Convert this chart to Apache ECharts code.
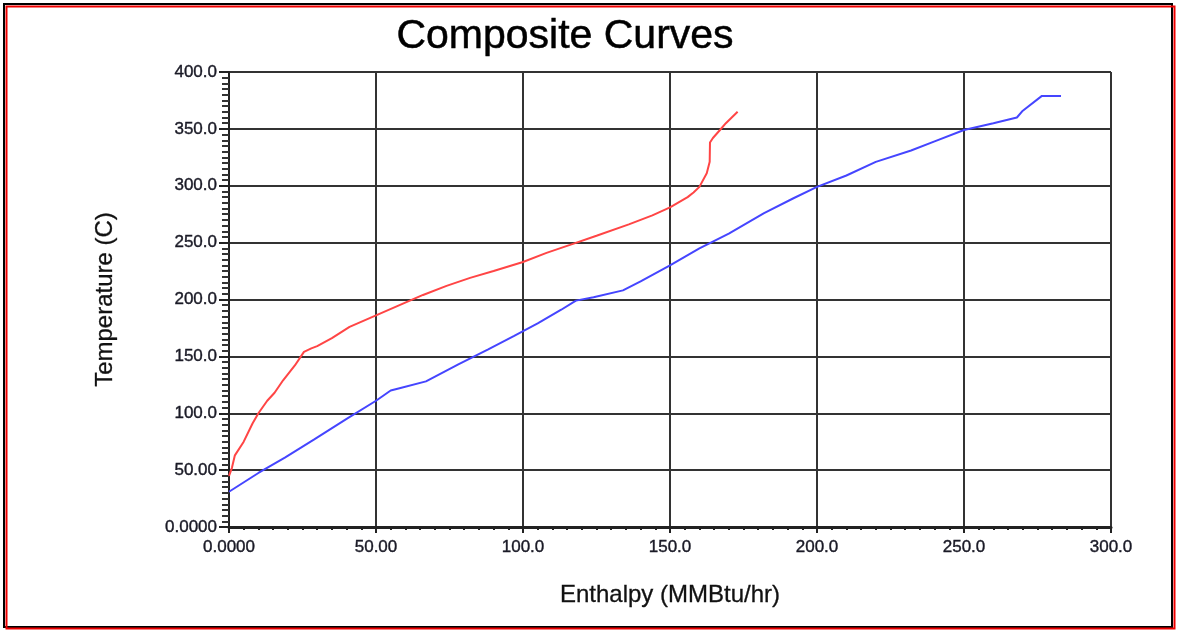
<!DOCTYPE html>
<html>
<head>
<meta charset="utf-8">
<title>Composite Curves</title>
<script src="https://cdn.jsdelivr.net/npm/echarts@6/dist/echarts.min.js"></script>
<style>
  html, body { margin: 0; padding: 0; background: #fff; }
  #chart { width: 1178px; height: 630px; }
</style>
</head>
<body>
<div id="chart"></div>
<script>
// Hot composite curve: [enthalpy (MMBtu/hr), temperature (C)]
const hotComposite = [
  [0, 45], [1, 52], [2, 63], [5, 75], [8, 91], [10, 100], [13, 111], [15.5, 118],
  [18.4, 129], [22.4, 142], [25.5, 154], [28, 157], [30, 159], [35, 166], [41, 176],
  [50, 186], [58, 195], [66, 204], [74, 212], [82, 219], [90, 225], [100, 233],
  [108, 241], [116, 248], [125, 256], [136, 266], [144, 274], [150, 281], [156, 290],
  [158, 294], [160, 299], [162.5, 311], [163.5, 321], [163.6, 338], [164.6, 342],
  [167, 349], [169, 355], [173, 365]
];

// Cold composite curve: [enthalpy (MMBtu/hr), temperature (C)]
const coldComposite = [
  [0, 31], [10, 47.5], [19, 61], [29, 77], [40, 95], [50, 111], [55, 120], [58, 122],
  [67, 128], [78, 143], [88, 156], [97, 168], [105, 179], [113, 191], [118, 199],
  [124, 202], [134, 208], [140, 216], [150, 230], [160, 245], [170, 258], [182, 276],
  [192, 289], [200, 299], [210, 309], [220, 321], [232, 331], [240, 339], [250, 349],
  [260, 355], [268, 360], [270, 366], [276.5, 379], [283, 379]
];

// Tick labels, one per major tick (every 50)
const xTickLabels = ['0.0000', '50.00', '100.0', '150.0', '200.0', '250.0', '300.0'];
const yTickLabels = ['0.0000', '50.00', '100.0', '150.0', '200.0', '250.0', '300.0', '350.0', '400.0'];

const chart = echarts.init(document.getElementById('chart'), null, { renderer: 'canvas' });

const labelFont = {
  fontFamily: 'Liberation Sans, Arial, sans-serif', fontSize: 17, color: '#1a1a26',
  textBorderColor: '#1a1a26', textBorderWidth: 0.4
};
const nameFont = {
  fontFamily: 'Liberation Sans, Arial, sans-serif', fontSize: 24, color: '#111',
  textBorderColor: '#111', textBorderWidth: 0.3
};
const gridLine = { color: '#333', width: 2 };

chart.setOption({
  backgroundColor: '#fff',
  animation: false,
  title: {
    text: 'Composite Curves',
    left: 560,
    textAlign: 'center',
    top: 11,
    textStyle: {
      fontFamily: 'Liberation Sans, Arial, sans-serif', fontSize: 41, fontWeight: 'normal', color: '#000',
      textBorderColor: '#000', textBorderWidth: 0.5
    }
  },
  graphic: [
    { type: 'rect', silent: true, shape: { x: 4, y: 4, width: 1168, height: 623 },
      style: { fill: 'none', stroke: '#000', lineWidth: 2 } },
    { type: 'rect', silent: true, shape: { x: 6.5, y: 6.5, width: 1168, height: 622 },
      style: { fill: 'none', stroke: '#e00', lineWidth: 2 } }
  ],
  grid: { left: 229, right: 67, top: 72, bottom: 103, containLabel: false },
  xAxis: {
    type: 'value',
    min: 0, max: 300, interval: 50,
    name: 'Enthalpy (MMBtu/hr)',
    nameLocation: 'middle',
    nameGap: 56,
    nameTextStyle: nameFont,
    axisLine: { show: true, onZero: false, lineStyle: { color: '#222', width: 3 } },
    axisTick: { show: true, inside: false, length: 6, lineStyle: { color: '#222', width: 2 } },
    minorTick: { show: true, splitNumber: 10, length: 3, lineStyle: { color: '#222', width: 2 } },
    axisLabel: Object.assign({ margin: 12, formatter: v => xTickLabels[Math.round(v / 50)] }, labelFont),
    splitLine: { show: true, lineStyle: gridLine }
  },
  yAxis: {
    type: 'value',
    min: 0, max: 400, interval: 50,
    name: 'Temperature (C)',
    nameLocation: 'middle',
    nameGap: 112,
    nameTextStyle: nameFont,
    axisLine: { show: true, onZero: false, lineStyle: { color: '#222', width: 2 } },
    axisTick: { show: true, inside: false, length: 10, lineStyle: { color: '#222', width: 2 } },
    minorTick: { show: true, splitNumber: 10, length: 7, lineStyle: { color: '#333', width: 2 } },
    axisLabel: Object.assign({ margin: 12, formatter: v => yTickLabels[Math.round(v / 50)] }, labelFont),
    splitLine: { show: true, lineStyle: gridLine }
  },
  series: [
    {
      name: 'Hot Composite',
      type: 'line',
      data: hotComposite,
      showSymbol: false,
      smooth: false,
      lineStyle: { color: '#ff4545', width: 2 },
      itemStyle: { color: '#ff4545' }
    },
    {
      name: 'Cold Composite',
      type: 'line',
      data: coldComposite,
      showSymbol: false,
      smooth: false,
      lineStyle: { color: '#4545ff', width: 2 },
      itemStyle: { color: '#4545ff' }
    }
  ]
});
</script>
</body>
</html>
